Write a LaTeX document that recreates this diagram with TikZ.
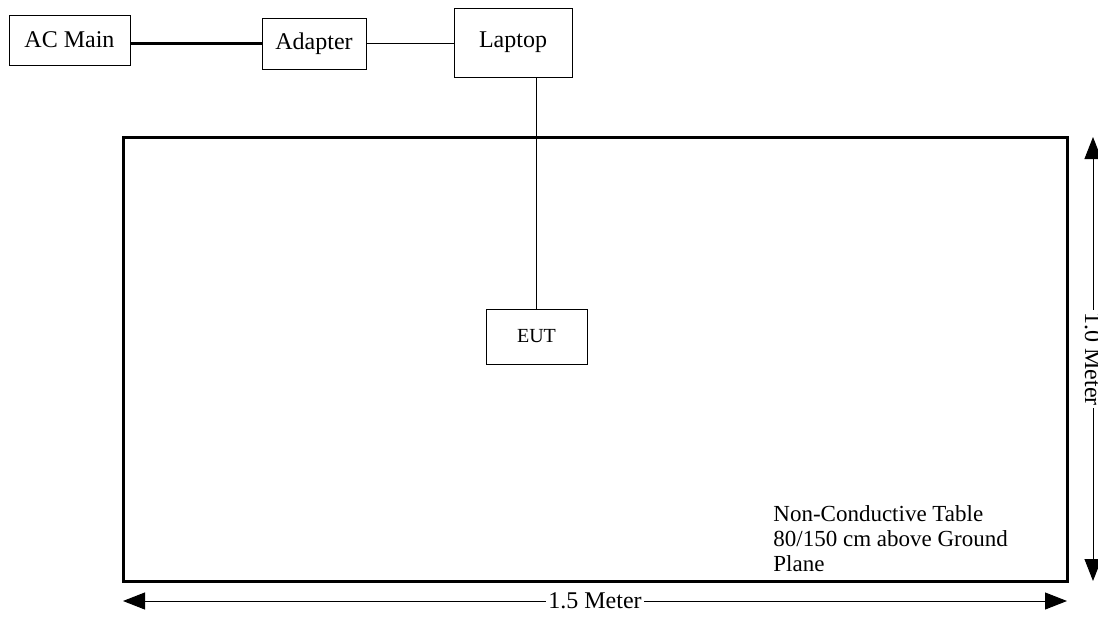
\documentclass[tikz,border=0pt]{standalone}
\usepackage{fontspec}
\setmainfont{Liberation Serif}
\usetikzlibrary{arrows.meta, calc}
\tikzstyle{unit} = [rectangle, text centered, draw = black, line width = 0.5pt, font = \fontsize{12}{14}\selectfont]
\tikzstyle{small} = [rectangle, text centered, draw = black, line width = 0.5pt, font = \fontsize{10}{12}\selectfont]
\tikzstyle{cable} = [line width = 0.5pt]
\tikzstyle{power} = [line width = 1.6pt]
\tikzstyle{dim} = [line width = 0.5pt, {Triangle[length = 11pt, width = 8.5pt]}-{Triangle[length = 11pt, width = 8.5pt]}]
\tikzstyle{dimtext} = [fill = white, inner sep = 1pt, font = \fontsize{12}{14}\selectfont]

\begin{document}
\begin{tikzpicture}[x = 0.5pt, y = -0.5pt]
    \useasboundingbox (0,0) rectangle (1098,616);
    \node(acmain)[unit, minimum width = 60.5pt, minimum height = 25pt] at (69.5,40){AC Main};
    \node(adapter)[unit, minimum width = 52pt, minimum height = 25.5pt] at (314,43.5){Adapter};
    \node(laptop)[unit, minimum width = 59pt, minimum height = 34.5pt] at (513,42.5){Laptop};
    \node(eut)[small, minimum width = 50.5pt, minimum height = 27.5pt] at (536.5,336.5){EUT};

    % table
    \draw[line width = 1.5pt](123,137) rectangle (1067,581);
    \node(note)[anchor = north west, align = left, inner sep = 0pt, font = \fontsize{11.5}{12.5}\selectfont] at (773,505){Non-Conductive Table\\80/150 cm above Ground\\Plane};

    \draw[power](acmain.east |- adapter.west)--(adapter.west);
    \draw[cable](adapter.east)--(adapter.east -| laptop.west);
    \draw[cable](eut.north |- laptop.south)--(eut.north);

    % dimensions
    \coordinate(wl) at (123,601);
    \coordinate(wr) at (1067,601);
    \coordinate(ht) at (1093,137);
    \coordinate(hb) at (1093,581);
    \draw[dim](wl)--(wr) node[dimtext, midway]{1.5 Meter};
    \draw[dim](ht)--(hb) node[dimtext, midway, rotate = -90]{1.0 Meter};
\end{tikzpicture}
\end{document}
